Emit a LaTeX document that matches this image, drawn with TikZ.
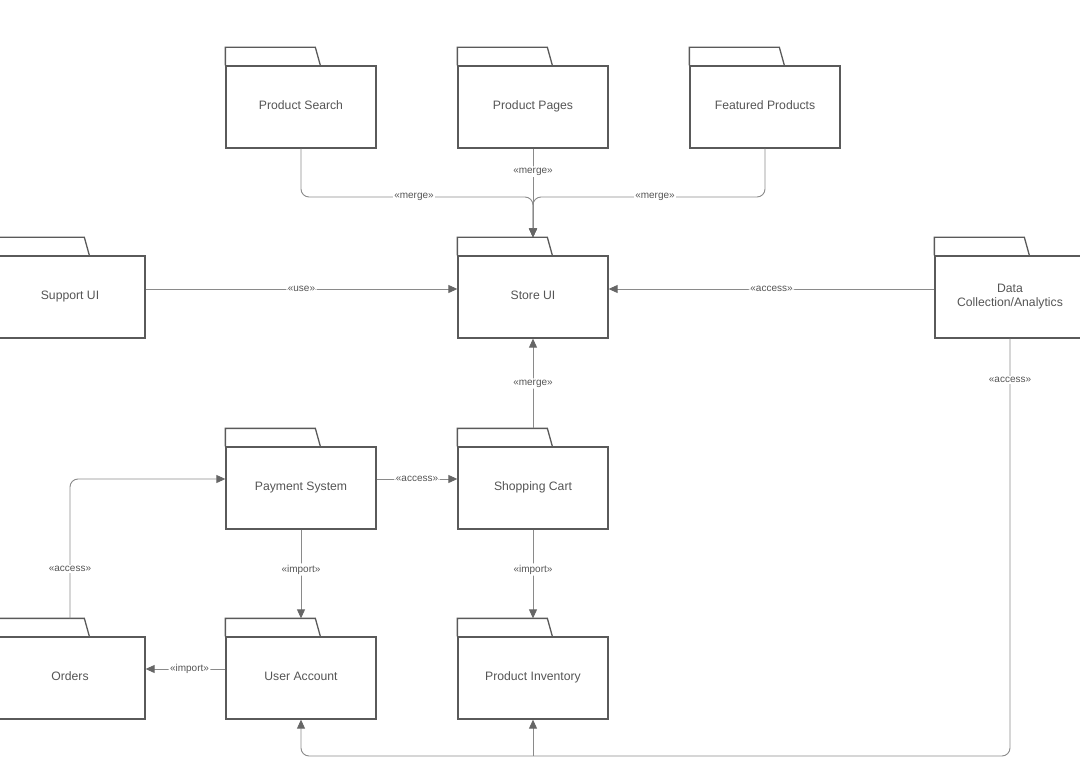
\documentclass[tikz,border=0pt]{standalone}
\usepackage{fontspec}
\setmainfont{Liberation Sans}
\usetikzlibrary{arrows.meta,calc}
\definecolor{boxc}{HTML}{5A5A5A}
\definecolor{linec}{HTML}{8A8A8A}
\definecolor{tipc}{HTML}{666666}
\definecolor{txtc}{HTML}{555555}
\tikzset{
  pkgbody/.style={draw=boxc, line width=1.3pt, fill=white, minimum width=150pt, minimum height=82pt,
    inner sep=0pt, text=txtc, font=\fontsize{12.2}{14}\selectfont, align=center},
  oneline/.style={text height=9pt, text depth=4.5pt},
  pkgtab/.style={draw=boxc, line width=1.3pt, line join=miter},
  conn/.style={draw=linec, line width=0.9pt, rounded corners=8pt},
  arr/.style={conn, -{Triangle[length=9pt,width=8pt,color=tipc]}},
  lbl/.style={fill=white, inner sep=1.5pt, text=txtc, font=\fontsize{10}{11}\selectfont}
}
\newcommand\pkg[5][oneline]{%
  \node[pkgbody,#1] (#2) at (#3,#4) {#5};
  \draw[pkgtab] (#2.north west) -- ++(0,-18) -- ++(90,0) -- ++(5,18);
}
\begin{document}
\begin{tikzpicture}[x=1pt,y=-1pt]
\useasboundingbox (0,0) rectangle (1080,781);
\pkg{psearch}{301}{107}{Product Search}
\pkg{ppages}{533}{107}{Product Pages}
\pkg{featured}{765}{107}{Featured Products}
\pkg{support}{70}{297}{Support UI}
\pkg{store}{533}{297}{Store UI}
\pkg[yshift=0pt]{data}{1010}{297}{Data\\Collection/Analytics}
\pkg{payment}{301}{488}{Payment System}
\pkg{cart}{533}{488}{Shopping Cart}
\pkg{orders}{70}{678}{Orders}
\pkg{user}{301}{678}{User Account}
\pkg{inv}{533}{678}{Product Inventory}

\coordinate (mergey) at (0,197);
\coordinate (boty) at (0,756);
\coordinate (storetop) at ([yshift=18pt]store.north);
\coordinate (paywest) at ([yshift=9pt]payment.west);
\coordinate (ordtop) at ([yshift=18pt]orders.north);

% merges into Store UI
\draw[arr] (psearch.south) -- (psearch.south |- mergey) -- (storetop |- mergey) -- (storetop);
\draw[arr] (featured.south) -- (featured.south |- mergey) -- (storetop |- mergey) -- (storetop);
\draw[arr] (ppages.south) -- node[lbl, pos=0.26] {«merge»} (storetop);
\node[lbl] at (414,197) {«merge»};
\node[lbl] at (655,197) {«merge»};

% use / access into Store UI
\draw[arr] ([yshift=8pt]support.east) -- node[lbl] {«use»} ([yshift=8pt]store.west);
\draw[arr] ([yshift=8pt]data.west) -- node[lbl] {«access»} ([yshift=8pt]store.east);

% cart merge into store
\draw[arr] ([yshift=18pt]cart.north) -- node[lbl] {«merge»} (store.south);

% payment access cart
\draw[arr] ([yshift=9pt]payment.east) -- node[lbl] {«access»} ([yshift=9pt]cart.west);

% orders access payment
\draw[arr] (ordtop) -- (ordtop |- paywest) -- (paywest);
\node[lbl] at (70,569) {«access»};

% imports
\draw[arr] (payment.south) -- node[lbl, pos=0.45] {«import»} ([yshift=18pt]user.north);
\draw[arr] (cart.south) -- node[lbl, pos=0.45] {«import»} ([yshift=18pt]inv.north);
\draw[arr] ([yshift=9pt]user.west) -- node[lbl, pos=0.45] {«import»} ([yshift=9pt]orders.east);

% data access bottom
\draw[arr] (data.south) -- (data.south |- boty) -- (user.south |- boty) -- (user.south);
\draw[arr] (inv.south |- boty) -- (inv.south);
\node[lbl] at (1010,380) {«access»};
\end{tikzpicture}
\end{document}
